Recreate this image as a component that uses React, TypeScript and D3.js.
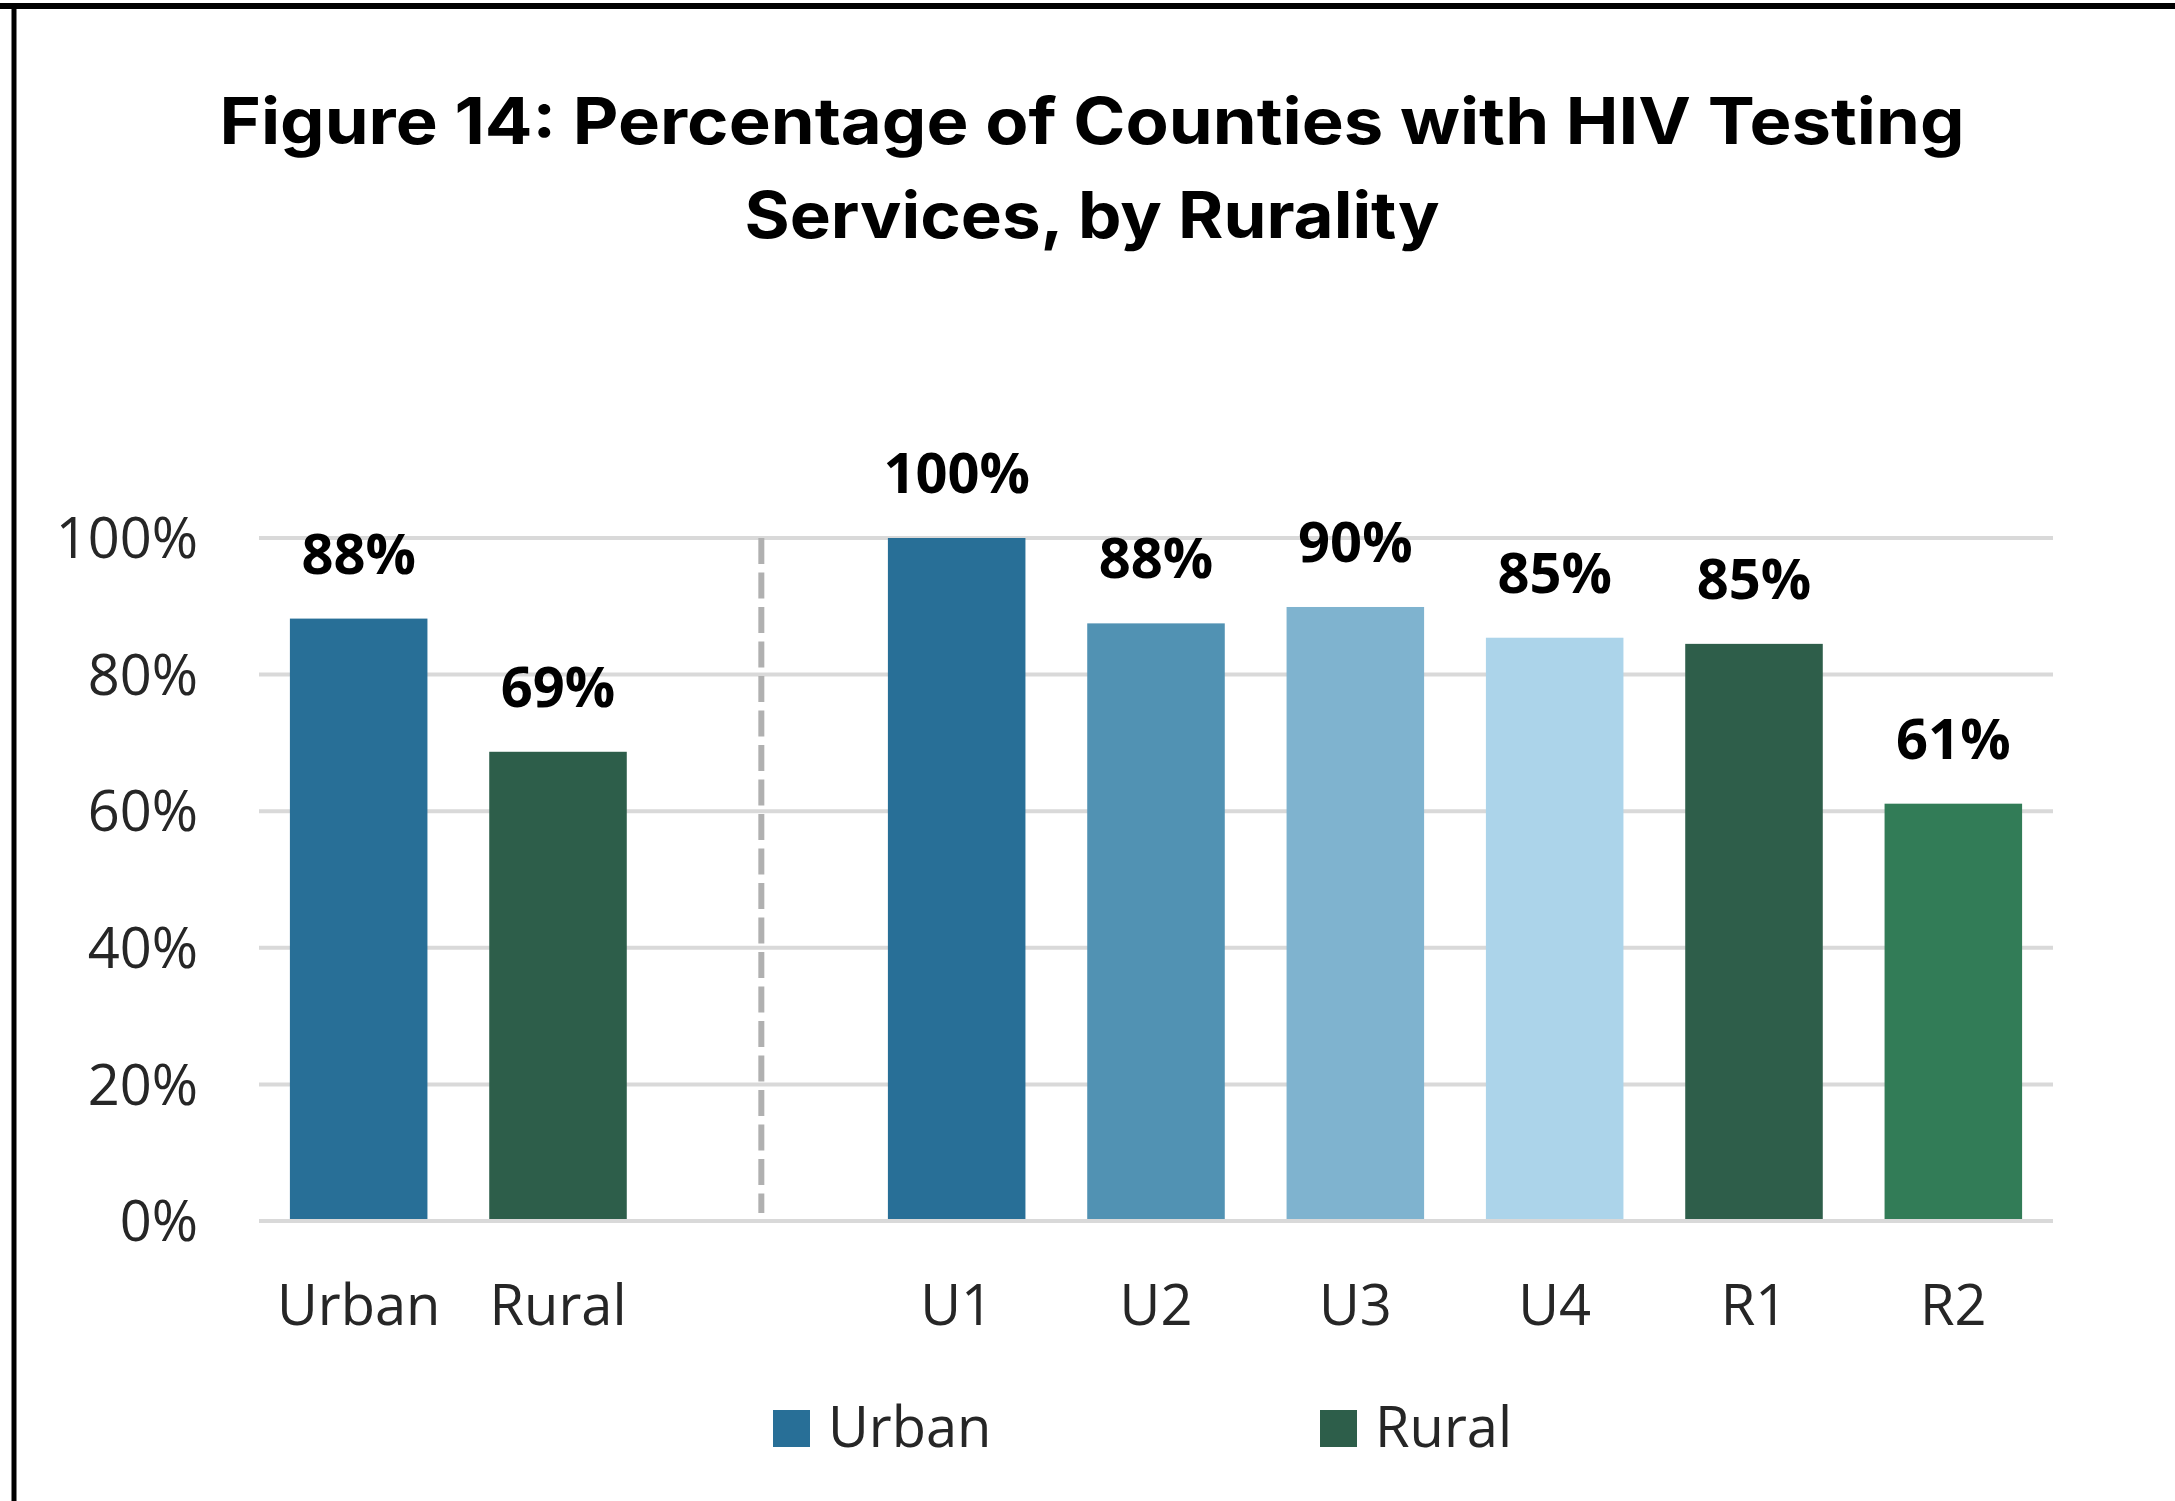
import React from "react";
import * as d3 from "d3";

// chart data
const categories = ["Urban", "Rural", "", "U1", "U2", "U3", "U4", "R1", "R2"];
const values = [88.2, 68.7, null, 100, 87.5, 89.9, 85.4, 84.5, 61.1];
const barColors = ["#286F97", "#2D5E4A", "none", "#286F97", "#5192B3", "#7FB3CF", "#ACD4EA", "#2E5E4A", "#327C57"];
const yTicks = [0, 20, 40, 60, 80, 100];
const legendItems = ["Urban", "Rural"];
const legendColors = ["#286F97", "#2D5E4A"];
const titleLines = ["Figure 14: Percentage of Counties with HIV Testing", "Services, by Rurality"];

const W = 2175;
const H = 1501;
const FONT = "'Open Sans', 'Noto Sans', sans-serif";

export default function App() {
  // x band scale, one slot per category (the blank one holds the divider)
  const x = d3.scaleBand<string>().domain(categories.map((c, i) => c || "gap" + i)).range([259, 2053]).paddingInner(0.31).paddingOuter(0.155);
  const y = d3.scaleLinear().domain([0, 100]).range([1221, 538]);
  const keys = x.domain();
  const gapX = (x(keys[2]) as number) + x.bandwidth() / 2 + 4;

  return (
    <svg width={W} height={H} style={{ position: "absolute", left: 0, top: 0, background: "#fff" }}>
      <rect x={0} y={0} width={W} height={H} fill="#fff" />
      {/* frame: top and left */}
      <line x1={0} x2={W} y1={6} y2={6} stroke="#000" strokeWidth={6} />
      <line x1={14} x2={14} y1={3} y2={H} stroke="#000" strokeWidth={5} />

      {/* title */}
      {titleLines.map((t, i) => (
        <text
          key={i}
          x={1092}
          y={144 + i * 94}
          textAnchor="middle"
          fontFamily="Inter, 'Open Sans', sans-serif"
          fontWeight={700}
          fontSize={64}
          textLength={i === 0 ? 1745 : 695}
          lengthAdjust="spacingAndGlyphs"
          fill="#000"
        >
          {t}
        </text>
      ))}

      {/* grid */}
      {yTicks.map((t) => (
        <g key={t}>
          <line x1={259} x2={2053} y1={y(t)} y2={y(t)} stroke="#D9D9D9" strokeWidth={4} />
          <text x={198} y={y(t)} dy="0.36em" textAnchor="end" fontFamily={FONT} fontSize={56} fill="#262626">
            {t}%
          </text>
        </g>
      ))}

      {/* divider */}
      <line x1={gapX} x2={gapX} y1={538} y2={1213} stroke="#B0B0B0" strokeWidth={6} strokeDasharray="26 8.5" />

      {/* bars */}
      {keys.map((k, i) => {
        const v = values[i];
        if (v == null) return null;
        const bx = x(k) as number;
        return (
          <g key={k}>
            <rect x={bx} y={y(v)} width={x.bandwidth()} height={y(0) - y(v) - 2} fill={barColors[i]} />
            <text x={bx + x.bandwidth() / 2} y={y(v) - 45} textAnchor="middle" fontFamily={FONT} fontWeight={700} fontSize={56} fill="#000">
              {Math.round(v)}%
            </text>
          </g>
        );
      })}

      {/* x labels */}
      {keys.map((k, i) =>
        categories[i] ? (
          <text key={"l" + k} x={(x(k) as number) + x.bandwidth() / 2} y={1325} textAnchor="middle" fontFamily={FONT} fontSize={56} fill="#262626">
            {categories[i]}
          </text>
        ) : null
      )}

      {/* legend */}
      {legendItems.map((name, i) => {
        const lx = [773, 1320][i];
        return (
          <g key={name}>
            <rect x={lx} y={1410} width={37} height={37} fill={legendColors[i]} />
            <text x={lx + 55} y={1447} fontFamily={FONT} fontSize={56} fill="#262626">
              {name}
            </text>
          </g>
        );
      })}
    </svg>
  );
}
